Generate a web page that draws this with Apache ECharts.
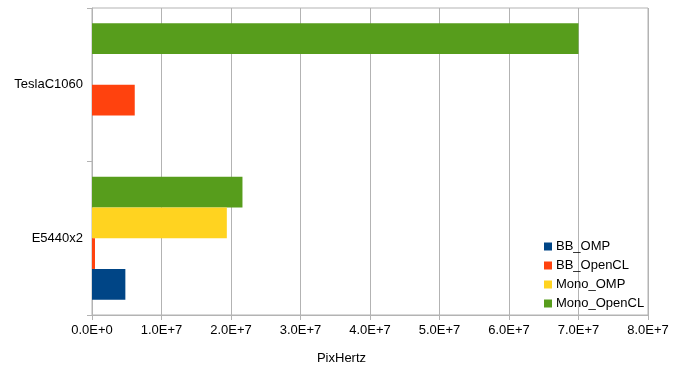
<!DOCTYPE html>
<html><head><meta charset="utf-8">
<script src="https://cdn.jsdelivr.net/npm/echarts@6/dist/echarts.min.js"></script>
<style>html,body{margin:0;padding:0;background:#fff}#c{width:683px;height:384px}</style>
</head><body><div id="c"></div>
<script>
const categories = ['E5440x2', 'TeslaC1060'];
const seriesNames = ['BB_OMP', 'BB_OpenCL', 'Mono_OMP', 'Mono_OpenCL'];
const bbOmp = [4.8e6, null];
const bbOpenCL = [4.3e5, 6.15e6];
const monoOmp = [1.94e7, null];
const monoOpenCL = [2.165e7, 7.0e7];
const xTicks = [0, 1e7, 2e7, 3e7, 4e7, 5e7, 6e7, 7e7, 8e7];
const axisTitle = 'PixHertz';

const colors = ['#004586', '#ff420e', '#ffd320', '#579d1c'];
const values = [bbOmp, bbOpenCL, monoOmp, monoOpenCL];
const font = 'Liberation Sans, Arial, sans-serif';
function fmt(v) {
  if (v === 0) return '0.0E+0';
  const e = Math.floor(Math.log10(Math.abs(v)) + 1e-9);
  const m = v / Math.pow(10, e);
  return m.toFixed(1) + 'E+' + e;
}
const order = [3, 2, 1, 0];
const chart = echarts.init(document.getElementById('c'));
chart.setOption({
  animation: false,
  grid: { left: 92, right: 35, top: 8, bottom: 69, show: true, borderColor: '#b3b3b3', borderWidth: 1 },
  xAxis: {
    type: 'value', min: xTicks[0], max: xTicks[xTicks.length - 1], interval: 1e7,
    axisLine: { show: true, lineStyle: { color: '#b3b3b3' } },
    axisTick: { show: true, length: 5, lineStyle: { color: '#b3b3b3' } },
    splitLine: { show: true, lineStyle: { color: '#b3b3b3' } },
    axisLabel: { formatter: fmt, color: '#000', fontSize: 13, fontFamily: font, margin: 9 }
  },
  yAxis: {
    type: 'category', data: categories,
    axisLine: { show: true, lineStyle: { color: '#b3b3b3' } },
    axisTick: { show: true, length: 5, lineStyle: { color: '#b3b3b3' } },
    axisLabel: { color: '#000', fontSize: 13, fontFamily: font, margin: 9 }
  },
  legend: {
    orient: 'vertical', left: 539, top: 235, itemWidth: 8, itemHeight: 8, itemGap: 6,
    icon: 'rect', data: seriesNames,
    textStyle: { color: '#000', fontSize: 13, fontFamily: font, padding: [0, 0, 0, -1] }
  },
  graphic: [{ type: 'text', left: 'center', top: 352, style: { text: axisTitle, fill: '#000', font: '13px ' + font } }],
  series: order.map(i => ({
    name: seriesNames[i], type: 'bar', data: values[i], barGap: '0%', barCategoryGap: '20%',
    itemStyle: { color: colors[i] }
  }))
});
</script></body></html>
